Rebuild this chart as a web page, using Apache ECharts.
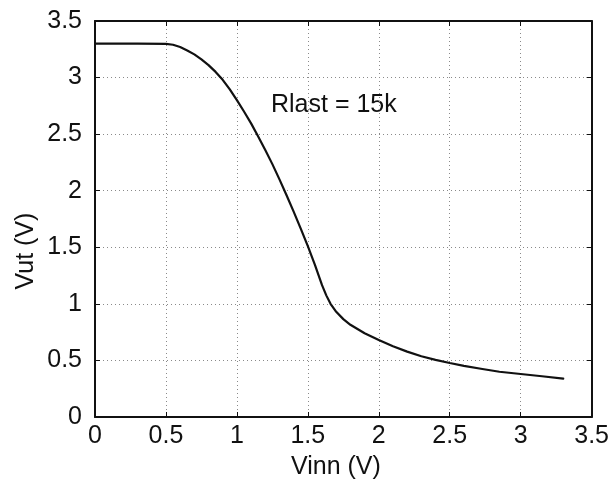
<!DOCTYPE html>
<html>
<head>
<meta charset="utf-8">
<script src="https://cdn.jsdelivr.net/npm/echarts@6/dist/echarts.min.js"></script>
<style>html,body{margin:0;padding:0;background:#fff;}#c{width:612px;height:484px;}</style>
</head>
<body>
<div id="c"></div>
<script>
const xValues = [0, 0.3, 0.5, 0.55, 0.6, 0.65, 0.7, 0.75, 0.8, 0.85, 0.9, 0.95, 1.0, 1.05, 1.1, 1.15, 1.2, 1.25, 1.3, 1.35, 1.4, 1.45, 1.5, 1.55, 1.6, 1.63, 1.66, 1.7, 1.75, 1.8, 1.9, 2.0, 2.1, 2.2, 2.3, 2.4, 2.5, 2.6, 2.73, 2.85, 3.0, 3.15, 3.3];
const yValues = [3.3, 3.3, 3.298, 3.29, 3.27, 3.24, 3.205, 3.16, 3.11, 3.05, 2.98, 2.895, 2.80, 2.70, 2.595, 2.48, 2.36, 2.235, 2.10, 1.96, 1.815, 1.665, 1.51, 1.345, 1.165, 1.075, 1.0, 0.93, 0.865, 0.815, 0.74, 0.68, 0.625, 0.578, 0.537, 0.505, 0.477, 0.452, 0.424, 0.40, 0.38, 0.36, 0.34];
const xLabel = 'Vinn (V)';
const yLabel = 'Vut (V)';
const annotation = 'Rlast = 15k';

const FONT = '"Liberation Sans", Arial, Helvetica, sans-serif';
const chart = echarts.init(document.getElementById('c'), null, {renderer: 'canvas'});
const gridLine = {show: true, lineStyle: {color: '#8a8a8a', type: [1, 3], width: 1}};
const axisLine = {show: true, onZero: false, lineStyle: {color: '#111', width: 2}};
const tick = {show: true, inside: true, length: 5, lineStyle: {color: '#111', width: 1}};
chart.setOption({
  animation: false,
  backgroundColor: '#fff',
  grid: {left: 95, right: 15, top: 21, bottom: 67, containLabel: false},
  xAxis: [
    {type: 'value', min: 0, max: 3.5, interval: 0.5, position: 'bottom',
     axisLine: axisLine, axisTick: tick, splitLine: gridLine,
     axisLabel: {color: '#111', fontSize: 25, fontFamily: FONT, margin: 7}},
    {type: 'value', min: 0, max: 3.5, interval: 0.5, position: 'top',
     axisLine: axisLine, axisTick: tick, splitLine: {show: false}, axisLabel: {show: false}}
  ],
  yAxis: [
    {type: 'value', min: 0, max: 3.5, interval: 0.5, position: 'left',
     axisLine: axisLine, axisTick: tick, splitLine: gridLine,
     axisLabel: {color: '#111', fontSize: 25, fontFamily: FONT, margin: 13}},
    {type: 'value', min: 0, max: 3.5, interval: 0.5, position: 'right',
     axisLine: axisLine, axisTick: tick, splitLine: {show: false}, axisLabel: {show: false}}
  ],
  graphic: [
    {type: 'text', left: 271, top: 93, style: {text: annotation, font: '25px ' + FONT, fill: '#111'}},
    {type: 'text', left: 291, top: 455, style: {text: xLabel, font: '25px ' + FONT, fill: '#111'}},
    {type: 'text', x: 26, y: 251, rotation: Math.PI / 2,
     style: {text: yLabel, font: '25px ' + FONT, fill: '#111', align: 'center', verticalAlign: 'middle'}}
  ],
  series: [{
    type: 'line', xAxisIndex: 0, yAxisIndex: 0,
    data: xValues.map((x, i) => [x, yValues[i]]),
    showSymbol: false, smooth: false,
    lineStyle: {color: '#111', width: 2.2, join: 'round', cap: 'round'}
  }]
});
</script>
</body>
</html>
